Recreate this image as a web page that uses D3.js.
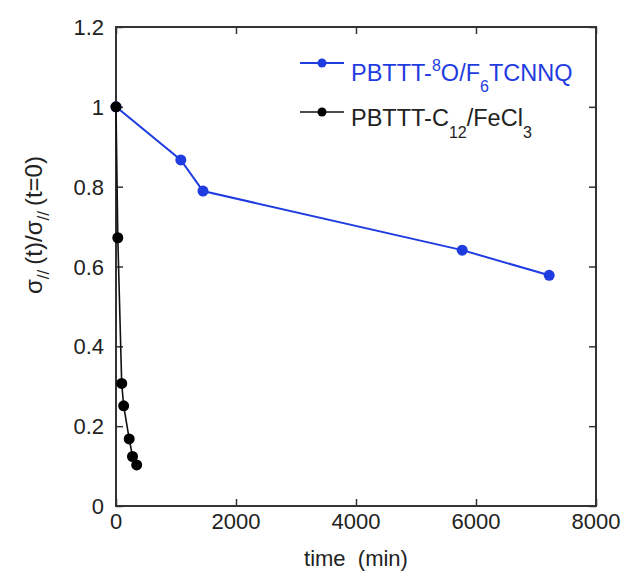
<!DOCTYPE html>
<html><head><meta charset="utf-8">
<script src="https://cdn.jsdelivr.net/npm/d3@7"></script>
<style>body{margin:0;background:#fff}svg text{font-family:"Liberation Sans",Arial,sans-serif;fill:#222}</style>
</head><body><svg id="c" width="625" height="573"></svg>
<script>
const blueTime = [0, 1080, 1450, 5770, 7220];
const blueValue = [1.0, 0.867, 0.789, 0.641, 0.578];
const blackTime = [0, 30, 95, 128, 220, 275, 345];
const blackValue = [1.0, 0.672, 0.307, 0.251, 0.168, 0.124, 0.103];
const xTicks = [0, 2000, 4000, 6000, 8000];
const yTicks = [0, 0.2, 0.4, 0.6, 0.8, 1, 1.2];

const svg = d3.select("#c");
const L = 116, R = 596, T = 27, B = 506;
const x = d3.scaleLinear().domain([0, 8000]).range([L, R]);
const y = d3.scaleLinear().domain([0, 1.2]).range([B, T]);
const tl = 7;

svg.append("rect").attr("x", L).attr("y", T).attr("width", R - L).attr("height", B - T)
  .attr("fill", "none").attr("stroke", "#333").attr("stroke-width", 2);

const fmtY = d => d === 0 ? "0" : (d === 1 ? "1" : d3.format(".1f")(d));
const gB = svg.append("g").attr("transform", `translate(0,${B})`)
  .call(d3.axisTop(x).tickValues(xTicks).tickSize(tl).tickFormat(""));
const gT = svg.append("g").attr("transform", `translate(0,${T})`)
  .call(d3.axisBottom(x).tickValues(xTicks).tickSize(tl).tickFormat(""));
const gL = svg.append("g").attr("transform", `translate(${L},0)`)
  .call(d3.axisRight(y).tickValues(yTicks).tickSize(tl).tickFormat(""));
const gR = svg.append("g").attr("transform", `translate(${R},0)`)
  .call(d3.axisLeft(y).tickValues(yTicks).tickSize(tl).tickFormat(""));
[gB, gT, gL, gR].forEach(g => { g.select(".domain").remove(); g.selectAll("line").attr("stroke", "#333").attr("stroke-width", 1.5); });

svg.append("g").selectAll("text").data(xTicks).join("text")
  .attr("x", d => x(d)).attr("y", B + 23).attr("text-anchor", "middle")
  .attr("font-size", 22).text(d => d);
svg.append("g").selectAll("text").data(yTicks).join("text")
  .attr("x", L - 12).attr("y", d => y(d) + 8).attr("text-anchor", "end")
  .attr("font-size", 22).text(fmtY);

svg.append("text").attr("x", 356).attr("y", 566).attr("text-anchor", "middle")
  .attr("font-size", 22).attr("xml:space", "preserve").text("time  (min)");
const yl = svg.append("text").attr("transform", "translate(42,225) rotate(-90)")
  .attr("text-anchor", "middle").attr("font-size", 24);
yl.append("tspan").text("σ");
yl.append("tspan").attr("font-size", 17).attr("dy", 7).text("//");
yl.append("tspan").attr("dy", -7).attr("dx", 5).text("(t)/σ");
yl.append("tspan").attr("font-size", 17).attr("dy", 7).text("//");
yl.append("tspan").attr("dy", -7).attr("dx", 5).text("(t=0)");

const blue = "#1f3ce0";
const line = d3.line().x(d => x(d[0])).y(d => y(d[1]));
const bData = blueTime.map((t, i) => [t, blueValue[i]]);
const kData = blackTime.map((t, i) => [t, blackValue[i]]);
svg.append("path").datum(bData).attr("d", line).attr("fill", "none").attr("stroke", blue).attr("stroke-width", 2);
svg.append("path").datum(kData).attr("d", line).attr("fill", "none").attr("stroke", "#111").attr("stroke-width", 1.6);
svg.append("g").selectAll("circle").data(bData).join("circle")
  .attr("cx", d => x(d[0])).attr("cy", d => y(d[1])).attr("r", 5.5).attr("fill", blue);
svg.append("g").selectAll("circle").data(kData).join("circle")
  .attr("cx", d => x(d[0])).attr("cy", d => y(d[1])).attr("r", 5.5).attr("fill", "#000");

const lg = svg.append("g");
lg.append("line").attr("x1", 300).attr("x2", 344).attr("y1", 63).attr("y2", 63).attr("stroke", blue).attr("stroke-width", 2);
lg.append("circle").attr("cx", 322).attr("cy", 63).attr("r", 4.5).attr("fill", blue);
lg.append("line").attr("x1", 300).attr("x2", 344).attr("y1", 112).attr("y2", 112).attr("stroke", "#111").attr("stroke-width", 1.6);
lg.append("circle").attr("cx", 322).attr("cy", 112).attr("r", 4.5).attr("fill", "#000");
const t1 = lg.append("text").attr("x", 351).attr("y", 81).attr("font-size", 23.5).style("fill", blue);
t1.append("tspan").text("PBTTT-");
t1.append("tspan").attr("font-size", 16).attr("dy", -10).text("8");
t1.append("tspan").attr("dy", 10).text("O/F");
t1.append("tspan").attr("font-size", 16).attr("dy", 11).text("6");
t1.append("tspan").attr("dy", -11).text("TCNNQ");
const t2 = lg.append("text").attr("x", 351).attr("y", 126).attr("font-size", 23.5);
t2.append("tspan").text("PBTTT-C");
t2.append("tspan").attr("font-size", 16).attr("dy", 12).text("12");
t2.append("tspan").attr("dy", -12).text("/FeCl");
t2.append("tspan").attr("font-size", 16).attr("dy", 12).text("3");
</script></body></html>
